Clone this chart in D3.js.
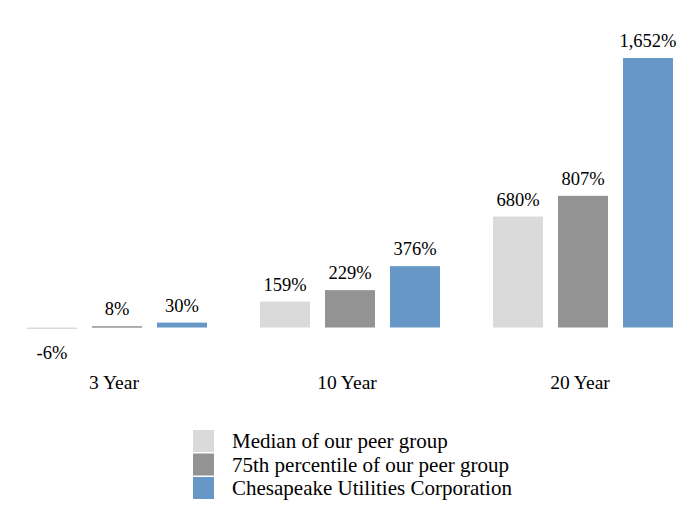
<!DOCTYPE html>
<html>
<head>
<meta charset="utf-8">
<script src="https://cdn.jsdelivr.net/npm/d3@7"></script>
<style>
  body { margin: 0; background: #fff; }
  svg text { font-family: "Liberation Serif", "Times New Roman", serif; fill: #000; }
</style>
</head>
<body>
<div id="chart"></div>
<script>
// Données
const periods = ["3 Year", "10 Year", "20 Year"];
const series = ["Median of our peer group", "75th percentile of our peer group", "Chesapeake Utilities Corporation"];
const median = [-6, 159, 680];
const pct75 = [8, 229, 807];
const chesapeake = [30, 376, 1652];
const colors = ["#dadada", "#939393", "#6797c7"];

const values = [median, pct75, chesapeake];
const rows = [];
periods.forEach((p, i) => {
    series.forEach((s, j) => rows.push({ period: p, serie: s, value: values[j][i] }));
});

const serif = "'Liberation Serif', 'Times New Roman', serif";
const width = 700, height = 520;
const svg = d3.select("#chart").append("svg")
    .attr("width", width)
    .attr("height", height);

// Échelles
const x0 = d3.scaleBand().domain(periods).range([0.5, 699.5]).padding(0);
const x1 = d3.scaleBand().domain(series).range([0, x0.bandwidth()])
    .paddingInner(0.2308).paddingOuter(0.4077);
const y = d3.scaleLinear().domain([0, 1652]).range([327.5, 58]);

// format avec séparateur de milliers et tiret simple
const fmt = d => d3.format(",")(d).replace("\u2212", "-") + "%";

// Barres
svg.append("g").selectAll("rect")
    .data(rows).enter()
    .append("rect")
    .attr("x", d => x0(d.period) + x1(d.serie))
    .attr("width", x1.bandwidth())
    .attr("y", d => d.value >= 0 ? y(d.value) : y(0))
    .attr("height", d => Math.max(Math.abs(y(d.value) - y(0)), 1.5))
    .attr("fill", d => colors[series.indexOf(d.serie)]);

// Étiquettes des valeurs
svg.append("g").selectAll("text")
    .data(rows).enter()
    .append("text")
    .attr("x", d => x0(d.period) + x1(d.serie) + x1.bandwidth() / 2)
    .attr("y", d => d.value >= 0 ? y(d.value) - 11 : y(0) + 31)
    .attr("text-anchor", "middle")
    .style("font-family", serif)
    .style("font-size", "18.5px")
    .text(d => fmt(d.value));

// Axe des catégories
const xAxis = svg.append("g")
    .attr("transform", "translate(0,370)")
    .call(d3.axisBottom(x0).tickSize(0).tickPadding(0));
xAxis.select(".domain").remove();
xAxis.selectAll("text")
    .attr("dy", "0")
    .attr("y", 19)
    .attr("dx", "-3")
    .style("font-family", serif)
    .style("font-size", "19.5px")
    .attr("fill", "#000");

// Légende
const legend = svg.append("g").attr("transform", "translate(193,430)");
series.forEach(function(s, i) {
    const row = legend.append("g").attr("transform", "translate(0," + (i * 23.5) + ")");
    row.append("rect")
        .attr("width", 21)
        .attr("height", 22)
        .attr("fill", colors[i]);
    row.append("text")
        .attr("x", 39)
        .attr("y", 18)
        .style("font-family", serif)
        .style("font-size", "21px")
        .text(s);
});
</script>
</body>
</html>
